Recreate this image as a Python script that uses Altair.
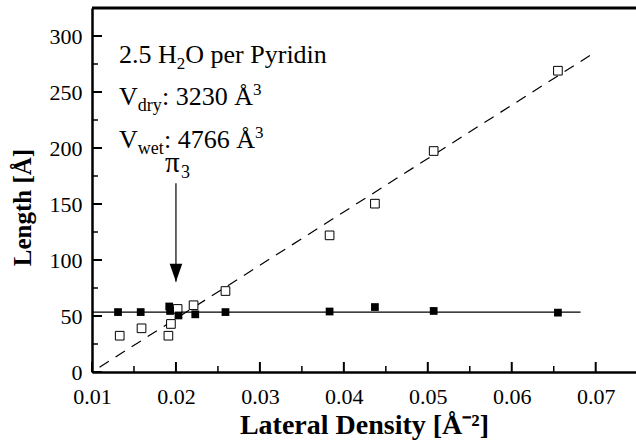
import altair as alt
import pandas as pd

# ---- data ----
open_x = [0.0133, 0.0159, 0.0191, 0.0194, 0.0202, 0.0221, 0.0259, 0.0383, 0.0437, 0.0507, 0.0655]
open_y = [32.4, 39.0, 32.4, 42.9, 56.3, 59.6, 72.3, 122.0, 150.3, 197.3, 269.0]

filled_x = [0.0131, 0.0158, 0.0192, 0.0193, 0.0203, 0.0223, 0.0259, 0.0383, 0.0437, 0.0507, 0.0655]
filled_y = [53.5, 53.5, 58.5, 54.5, 50.5, 51.5, 53.5, 54.0, 58.0, 54.5, 53.0]

fit_wet_x = [0.0109, 0.0695]
fit_wet_y = [4.3, 283.5]

fit_dry_x = [0.0100, 0.0682]
fit_dry_y = [53.5, 53.5]

x_ticks = [0.01, 0.02, 0.03, 0.04, 0.05, 0.06, 0.07]
x_minor = [0.015, 0.025, 0.035, 0.045, 0.055, 0.065]
y_ticks = [0, 50, 100, 150, 200, 250, 300]
y_minor = [25, 75, 125, 175, 225, 275]

arrow_x = [0.0200]
arrow_top = [168.5]
arrow_tip = [80.5]

W, H = 544, 364
FONT = "Liberation Serif"

xs = alt.Scale(domain=[0.01, 0.0748], nice=False, zero=False)
ys = alt.Scale(domain=[0, 325], nice=False, zero=False)

x_axis = alt.Axis(values=x_ticks, format=".2f", ticks=False, grid=False, labelFlush=False,
                  domainColor="black", domainWidth=2.5, labelFont=FONT, labelFontSize=22,
                  labelColor="black", labelPadding=14, title="Lateral Density [Å⁻²]",
                  titleFont=FONT, titleFontSize=28, titleFontWeight="bold", titleColor="black",
                  titlePadding=4)
y_axis = alt.Axis(values=y_ticks, ticks=False, grid=False, labelFlush=False,
                  domainColor="black", domainWidth=2.5, labelFont=FONT, labelFontSize=22,
                  labelColor="black", labelPadding=10, title="Length [Å]",
                  titleFont=FONT, titleFontSize=25, titleFontWeight="bold", titleColor="black",
                  titleAngle=270, titleAlign="center", titleBaseline="middle",
                  titleX=-70, titleY=199)

open_df = pd.DataFrame({"x": open_x, "y": open_y})
filled_df = pd.DataFrame({"x": filled_x, "y": filled_y})
wet_df = pd.DataFrame({"x": fit_wet_x, "y": fit_wet_y})
dry_df = pd.DataFrame({"x": fit_dry_x, "y": fit_dry_y})

wet_line = alt.Chart(wet_df).mark_line(color="black", strokeWidth=1.2, strokeDash=[11, 8]).encode(
    x=alt.X("x:Q", scale=xs, axis=x_axis), y=alt.Y("y:Q", scale=ys, axis=y_axis))
dry_line = alt.Chart(dry_df).mark_line(color="black", strokeWidth=1.3).encode(
    x=alt.X("x:Q", scale=xs), y=alt.Y("y:Q", scale=ys))

open_pts = alt.Chart(open_df).mark_point(shape="square", size=75, filled=True, fill="white",
                                          stroke="black", strokeWidth=1, opacity=1).encode(
    x=alt.X("x:Q", scale=xs), y=alt.Y("y:Q", scale=ys))
filled_pts = alt.Chart(filled_df).mark_point(shape="square", size=60, filled=True, color="black",
                                              opacity=1).encode(
    x=alt.X("x:Q", scale=xs), y=alt.Y("y:Q", scale=ys))

xt_df = pd.DataFrame({"t": x_ticks})
xm_df = pd.DataFrame({"t": x_minor})
yt_df = pd.DataFrame({"t": y_ticks})
ym_df = pd.DataFrame({"t": y_minor})

x_major = alt.Chart(xt_df).mark_rule(color="black", strokeWidth=2).encode(
    x=alt.X("t:Q", scale=xs), y=alt.value(H), y2=alt.value(H - 10))
x_min = alt.Chart(xm_df).mark_rule(color="black", strokeWidth=1.5).encode(
    x=alt.X("t:Q", scale=xs), y=alt.value(H), y2=alt.value(H - 6))
y_major = alt.Chart(yt_df).mark_rule(color="black", strokeWidth=2).encode(
    y=alt.Y("t:Q", scale=ys), x=alt.value(0), x2=alt.value(10))
y_min = alt.Chart(ym_df).mark_rule(color="black", strokeWidth=1.5).encode(
    y=alt.Y("t:Q", scale=ys), x=alt.value(0), x2=alt.value(6))

top_border = alt.Chart(alt.Data(values=[{}])).mark_rule(color="black", strokeWidth=3).encode(
    x=alt.value(0), x2=alt.value(W), y=alt.value(0))

arrow_df = pd.DataFrame({"x": arrow_x, "top": arrow_top, "tip": arrow_tip})
arrow_shaft = alt.Chart(arrow_df).mark_rule(color="black", strokeWidth=1.2).encode(
    x=alt.X("x:Q", scale=xs), y=alt.Y("top:Q", scale=ys), y2="tip:Q")
arrow_head = alt.Chart(arrow_df).mark_point(shape="M-0.7,-1L0.7,-1L0,1Z", size=324, filled=True,
                                            color="black", opacity=1, yOffset=-9).encode(
    x=alt.X("x:Q", scale=xs), y=alt.Y("tip:Q", scale=ys))


def txt(s, x, y, size=26):
    return alt.Chart(alt.Data(values=[{}])).mark_text(
        font=FONT, fontSize=size, align="left", baseline="alphabetic", color="black").encode(
        x=alt.value(x), y=alt.value(y), text=alt.value(s))


x0 = 27
texts = [
    txt("2.5 H", x0, 55), txt("2", x0 + 57.8, 61, 17), txt("O per Pyridin", x0 + 66.3, 55),
    txt("V", x0, 97), txt("dry", x0 + 18.8, 103, 18), txt(": 3230 Å", x0 + 43, 97),
    txt("3", x0 + 134, 87, 17),
    txt("V", x0, 140), txt("wet", x0 + 18.8, 146, 18), txt(": 4766 Å", x0 + 45, 140),
    txt("3", x0 + 136, 130, 17),
    txt("π", 73, 164, 29), txt("3", 89, 170, 18),
]

chart = alt.layer(
    wet_line, dry_line, open_pts, filled_pts,
    x_major, x_min, y_major, y_min, top_border, arrow_shaft, arrow_head, *texts
).properties(
    width=W, height=H,
    padding={"left": 92, "top": 8, "right": 0, "bottom": 70},
    autosize=alt.AutoSizeParams(type="none"),
    background="white",
).configure_view(stroke=None)

chart.save("out.html", embed_options={"renderer": "svg", "actions": False})
